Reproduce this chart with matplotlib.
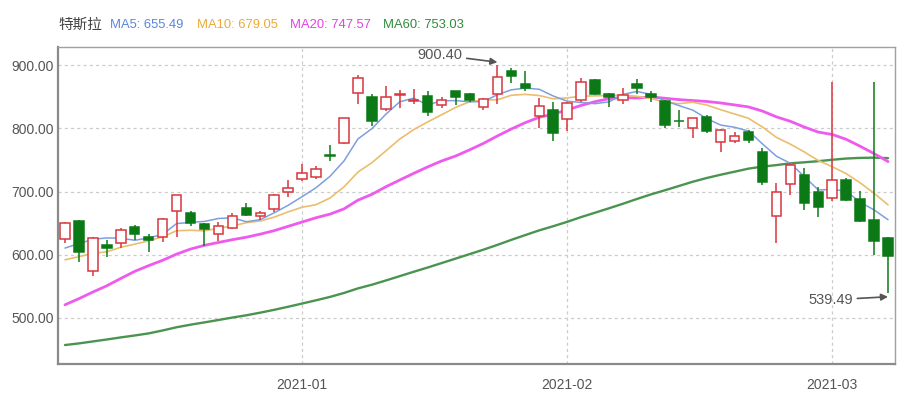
import matplotlib
matplotlib.use("Agg")
import matplotlib.pyplot as plt
from matplotlib import font_manager
import numpy as np

dates = ["2020-12-08", "2020-12-09", "2020-12-10", "2020-12-11", "2020-12-14", "2020-12-15",
         "2020-12-16", "2020-12-17", "2020-12-18", "2020-12-21", "2020-12-22", "2020-12-23",
         "2020-12-24", "2020-12-28", "2020-12-29", "2020-12-30", "2020-12-31",
         "2021-01-04", "2021-01-05", "2021-01-06", "2021-01-07", "2021-01-08", "2021-01-11",
         "2021-01-12", "2021-01-13", "2021-01-14", "2021-01-15", "2021-01-19", "2021-01-20",
         "2021-01-21", "2021-01-22", "2021-01-25", "2021-01-26", "2021-01-27", "2021-01-28",
         "2021-01-29",
         "2021-02-01", "2021-02-02", "2021-02-03", "2021-02-04", "2021-02-05", "2021-02-08",
         "2021-02-09", "2021-02-10", "2021-02-11", "2021-02-12", "2021-02-16", "2021-02-17",
         "2021-02-18", "2021-02-19", "2021-02-22", "2021-02-23", "2021-02-24", "2021-02-25",
         "2021-02-26",
         "2021-03-01", "2021-03-02", "2021-03-03", "2021-03-04", "2021-03-05"]

opens = [625.51, 653.69, 574.37, 615.01, 619.00, 643.28, 628.23, 628.19, 668.90, 666.24,
         648.00, 632.20, 642.99, 674.51, 661.00, 672.00, 699.99, 719.46, 723.66, 758.49,
         777.63, 856.00, 849.40, 831.00, 852.76, 843.39, 852.00, 837.80, 858.74, 855.00,
         834.31, 855.00, 891.38, 870.35, 820.00, 830.00, 814.29, 844.68, 877.02, 855.00,
         845.00, 869.67, 855.12, 843.64, 812.44, 801.26, 818.00, 779.09, 780.90, 795.00,
         762.64, 662.13, 711.85, 726.15, 700.00, 690.11, 718.28, 687.99, 655.80, 626.06]
highs = [651.28, 654.32, 627.75, 624.00, 642.75, 646.90, 632.50, 658.82, 695.00, 668.50,
         649.88, 651.50, 666.09, 681.40, 669.90, 696.60, 718.72, 744.49, 740.84, 774.00,
         816.99, 884.49, 854.43, 868.00, 860.47, 863.00, 859.90, 850.00, 859.50, 855.72,
         848.00, 900.40, 895.90, 891.50, 848.00, 842.41, 842.00, 880.50, 878.08, 856.50,
         864.77, 877.77, 859.80, 844.82, 829.88, 817.33, 821.00, 799.84, 794.69, 796.79,
         768.50, 713.61, 745.00, 737.21, 706.70, 873.00, 721.11, 700.70, 873.00, 627.84]
lows = [618.50, 588.00, 566.34, 596.80, 610.20, 623.80, 605.00, 619.50, 628.54, 646.07,
        614.23, 622.57, 641.00, 660.80, 655.00, 668.36, 691.12, 717.19, 719.20, 749.10,
        775.20, 838.39, 803.62, 827.34, 832.00, 838.75, 819.10, 833.00, 837.28, 841.42,
        828.62, 838.82, 871.60, 858.66, 801.00, 780.10, 795.56, 842.20, 853.06, 833.42,
        838.97, 854.75, 841.75, 800.02, 801.73, 785.33, 792.44, 762.01, 776.27, 777.37,
        710.20, 619.00, 694.17, 670.58, 659.51, 685.05, 685.00, 651.71, 600.00, 539.49]
closes = [649.88, 604.48, 627.07, 609.99, 639.83, 633.25, 622.77, 655.90, 695.00, 649.86,
          640.34, 645.98, 661.77, 663.69, 665.99, 694.78, 705.67, 729.77, 735.11, 755.98,
          816.04, 880.02, 811.19, 849.44, 854.41, 845.00, 826.16, 844.55, 850.45, 844.99,
          846.64, 880.80, 883.09, 864.16, 835.43, 793.53, 839.81, 872.79, 854.69, 849.99,
          852.23, 863.42, 849.46, 804.82, 811.66, 816.12, 796.22, 798.15, 787.38, 781.30,
          714.50, 698.84, 742.02, 682.22, 675.50, 718.43, 686.44, 653.20, 621.44, 597.95]

ma5 = [610.58, 617.71, 624.45, 626.64, 626.25, 622.92, 626.58, 632.35, 649.35, 651.36,
       652.77, 657.42, 658.59, 652.33, 655.55, 666.44, 678.38, 691.98, 706.26, 724.26,
       748.51, 783.38, 799.67, 822.53, 842.22, 848.01, 837.24, 843.91, 844.11, 842.23,
       842.56, 853.49, 861.19, 863.94, 862.02, 851.40, 843.20, 841.14, 839.25, 842.16,
       853.90, 858.62, 853.96, 843.98, 836.32, 829.10, 815.66, 805.39, 801.91, 795.83,
       775.51, 756.03, 744.81, 723.78, 702.62, 703.40, 700.92, 683.16, 671.00, 655.49]
ma10 = [592.04, 596.95, 602.26, 604.68, 611.90, 616.75, 622.15, 628.40, 637.99, 638.80,
        637.85, 642.00, 645.47, 650.84, 653.46, 659.61, 667.90, 675.29, 679.30, 689.91,
        707.48, 730.88, 745.82, 764.40, 783.24, 798.26, 810.31, 821.79, 833.32, 842.23,
        845.29, 845.36, 852.55, 854.03, 852.13, 846.98, 848.35, 851.17, 851.59, 852.09,
        852.65, 850.91, 847.55, 841.62, 839.24, 841.50, 837.14, 829.68, 822.95, 816.08,
        802.30, 785.85, 775.10, 762.84, 749.23, 739.46, 728.48, 713.98, 697.39, 679.05]
ma20 = [520.76, 530.47, 540.96, 550.87, 562.44, 573.70, 582.76, 591.22, 601.01, 609.02,
        614.94, 619.47, 623.86, 627.76, 632.68, 638.18, 645.02, 651.84, 658.64, 664.36,
        672.66, 686.44, 695.65, 707.62, 718.35, 728.94, 739.11, 748.54, 756.31, 766.07,
        776.38, 788.12, 799.19, 809.21, 817.68, 822.62, 829.33, 836.48, 842.46, 847.16,
        848.97, 848.14, 850.05, 847.82, 845.68, 844.24, 842.74, 840.42, 837.27, 834.08,
        827.48, 818.38, 811.33, 802.23, 794.23, 790.48, 782.81, 771.83, 760.17, 747.57]
ma60 = [457.04, 459.62, 462.71, 465.82, 469.11, 472.17, 475.48, 480.08, 485.20, 489.24,
        492.89, 496.67, 500.55, 504.14, 508.33, 512.81, 517.67, 522.74, 527.90, 533.27,
        539.50, 546.72, 552.55, 559.24, 566.15, 573.06, 579.79, 586.83, 593.90, 600.98,
        608.08, 615.68, 623.63, 631.19, 638.65, 645.20, 652.13, 659.67, 666.61, 673.61,
        680.80, 688.35, 695.55, 702.10, 708.82, 715.62, 721.53, 726.73, 731.53, 736.39,
        739.60, 741.99, 744.79, 746.40, 748.20, 750.43, 752.39, 753.38, 753.76, 753.03]

name = "特斯拉"
legend_labels = ["MA5: 655.49", "MA10: 679.05", "MA20: 747.57", "MA60: 753.03"]
yticks = [500, 600, 700, 800, 900]
high_label = "900.40"
low_label = "539.49"

UP = "#d9363e"
DOWN = "#0b7a16"
C_MA5, C_MA10, C_MA20, C_MA60 = "#7d9fe0", "#ebbd6e", "#ee5aee", "#4a9450"
TXT = "#555555"

plt.rcParams['font.family'] = ['Liberation Sans', 'Noto Sans CJK SC', 'DejaVu Sans']
installed = {f.name for f in font_manager.fontManager.ttflist}
if 'Liberation Sans Narrow' in installed:
    head_family, head_size = ['Liberation Sans Narrow', 'DejaVu Sans'], 11.5
else:
    head_family, head_size = ['Liberation Sans', 'DejaVu Sans'], 9.4

fig = plt.figure(figsize=(9, 4), dpi=100)
ax = fig.add_axes([58 / 900, 1 - 364 / 400, (895 - 58) / 900, (364 - 47) / 400])

x = np.arange(len(dates))
o = np.array(opens); c = np.array(closes); h = np.array(highs); l = np.array(lows)
up = c >= o
colors = [UP if u else DOWN for u in up]

# moving averages
ax.plot(x, ma60, color=C_MA60, lw=1.7, zorder=2, solid_capstyle='round')
ax.plot(x, ma20, color=C_MA20, lw=2.0, zorder=2, solid_capstyle='round')
ax.plot(x, ma10, color=C_MA10, lw=1.2, zorder=2, solid_capstyle='round')
ax.plot(x, ma5, color=C_MA5, lw=1.1, zorder=2, solid_capstyle='round')

# wicks
ax.vlines(x, l, h, colors=colors, lw=1.1, zorder=3)
# bodies
bottoms = np.minimum(o, c)
heights = np.abs(c - o)
faces = ["white" if u else DOWN for u in up]
ax.bar(x, heights, width=0.68, bottom=bottoms, color=faces, edgecolor=colors,
       linewidth=1.1, zorder=4)

# axes setup
ax.set_xlim(-0.5, len(dates) - 0.5)
ax.set_ylim(427, 929)
ax.set_yticks(yticks)
ax.set_yticklabels([f"{v:.2f}" for v in yticks])

month_idx = [i for i in range(1, len(dates)) if dates[i][:7] != dates[i - 1][:7]]
ax.set_xticks(month_idx)
ax.set_xticklabels([dates[i][:7] for i in month_idx])

ax.tick_params(axis='both', length=0, labelsize=10, colors=TXT)
ax.tick_params(axis='y', pad=3)
ax.tick_params(axis='x', pad=10)
ax.grid(True, color="#cccccc", linestyle=(0, (2.5, 2.5)), linewidth=0.9, zorder=0)
ax.set_axisbelow(True)
for side in ['top', 'right']:
    ax.spines[side].set_color("#a0a0a0")
    ax.spines[side].set_linewidth(1.0)
for side in ['left', 'bottom']:
    ax.spines[side].set_color("#8a8a8a")
    ax.spines[side].set_linewidth(1.6)

# annotations for extremes
hi_i = int(np.argmax(h[:40]))
lo_i = int(np.argmin(l))
ax.annotate(high_label, xy=(hi_i, h[hi_i] + 4.5), xytext=(hi_i - 2.5, h[hi_i] + 16),
            ha='right', va='center', fontsize=10.5, color=TXT,
            arrowprops=dict(arrowstyle='-|>', color="#555555", lw=1.2,
                            mutation_scale=10, shrinkA=1, shrinkB=0))
ax.annotate(low_label, xy=(lo_i, l[lo_i] - 6), xytext=(lo_i - 2.5, l[lo_i] - 11),
            ha='right', va='center', fontsize=10.5, color=TXT,
            arrowprops=dict(arrowstyle='-|>', color="#555555", lw=1.2,
                            mutation_scale=10, shrinkA=1, shrinkB=0))

# header legend
ty = 1 - 25 / 400
fig.text(58 / 900, ty, name, fontsize=10.5, color="#444444", va='center',
         family=['Noto Sans CJK SC', 'DejaVu Sans'])
for lbl, px, col in zip(legend_labels, [110, 197, 290, 383],
                        ["#5a86e0", "#eda935", "#e640e6", "#2f8a3c"]):
    fig.text(px / 900, ty, lbl, fontsize=head_size, color=col, va='center',
             family=head_family)

fig.savefig("out.png", dpi=100)
